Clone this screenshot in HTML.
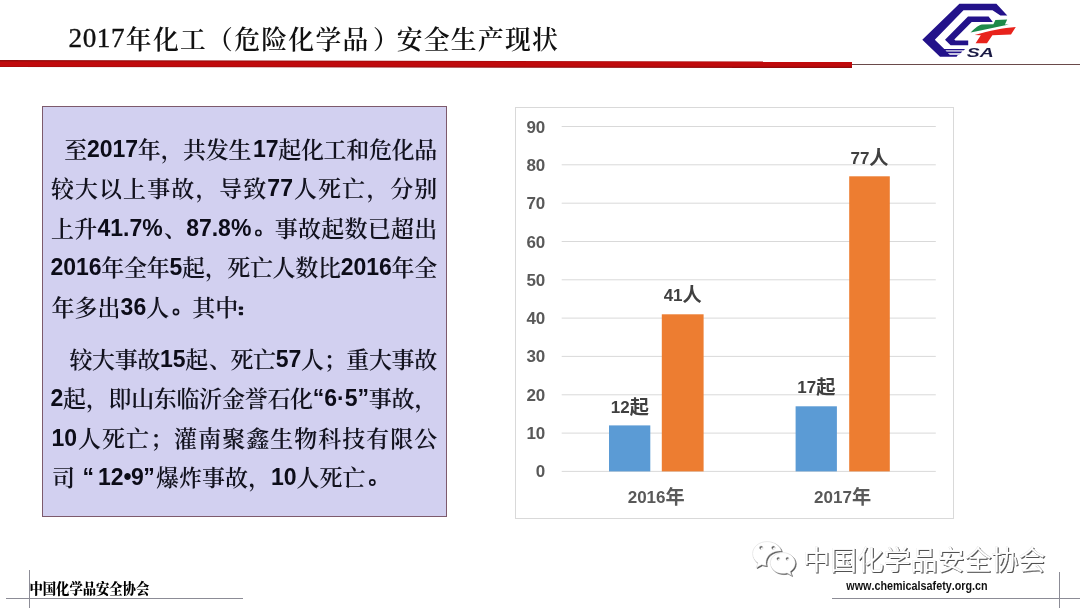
<!DOCTYPE html>
<html lang="zh"><head><meta charset="utf-8"><title>2017年化工（危险化学品）安全生产现状</title>
<style>
html,body{margin:0;padding:0;background:#fff;}
body{width:1080px;height:608px;overflow:hidden;position:relative;font-family:"Liberation Sans",sans-serif;}
#slide{position:absolute;left:0;top:0;width:1080px;height:608px;background:#fff;overflow:hidden;}
.abs{position:absolute;}
svg{position:absolute;left:0;top:0;overflow:visible;will-change:transform;}
svg text{font-family:"Liberation Sans",sans-serif;font-kerning:none;}
.n{font-weight:bold;font-size:23px;fill:#0c0c18;}
.c{font-weight:bold;font-size:17px;fill:#595959;}
.d{fill:#404040;}
.td{font-family:"Liberation Serif",serif;font-size:27.2px;fill:#111;stroke:#111;stroke-width:0.35px;letter-spacing:0.5px;}
.z{font-family:"Liberation Serif","Noto Serif CJK SC",serif;font-size:23px;font-weight:600;fill:#12121e;}
.tz{font-family:"Liberation Serif","Noto Serif CJK SC",serif;font-size:25.8px;font-weight:600;fill:#111;}
.cz{font-family:"Liberation Sans","Noto Sans CJK SC",sans-serif;font-size:19.2px;font-weight:bold;}
.fz{font-family:"Liberation Serif","Noto Serif CJK SC",serif;font-size:14.5px;font-weight:900;fill:#000;}
.wz{font-family:"Liberation Sans","Noto Sans CJK SC",sans-serif;font-size:27px;font-weight:normal;fill:#fff;stroke:#d8d8d8;stroke-width:0.22px;}
.sr{position:absolute;color:transparent;font-size:10px;line-height:12px;margin:0;overflow:hidden;white-space:nowrap;user-select:none;}
#redthin{left:852px;top:63.6px;width:228px;height:1px;background:#6a4a4a;}
#box{left:42px;top:106px;width:402.5px;height:408.7px;background:#d2d0f0;border:1px solid #7d5a6c;}
#chartbox{left:515px;top:106.5px;width:437px;height:410.5px;border:1px solid #d9d9d9;background:#fff;}
.gl{background:#8c8c96;}
</style></head>
<body><div id="slide">
<div id="redthin" class="abs"></div>
<div id="box" class="abs"></div>
<div id="chartbox" class="abs"></div>
<div class="abs gl" style="left:29px;top:570px;width:1px;height:38px"></div>
<div class="abs gl" style="left:6px;top:598px;width:237px;height:1px"></div>
<div class="abs gl" style="left:1059px;top:572px;width:1px;height:36px"></div>
<div class="abs gl" style="left:832px;top:598px;width:248px;height:1px"></div>

<h1 class="sr" style="left:69px;top:30px;width:480px">2017年化工（危险化学品）安全生产现状</h1>
<p class="sr" style="left:52px;top:140px;width:380px">至2017年，共发生17起化工和危化品较大以上事故，导致77人死亡，分别上升41.7%、87.8%。事故起数已超出2016年全年5起，死亡人数比2016年全年多出36人。其中：</p>
<p class="sr" style="left:52px;top:350px;width:380px">较大事故15起、死亡57人；重大事故2起，即山东临沂金誉石化“6·5”事故，10人死亡；灌南聚鑫生物科技有限公司 “12•9”爆炸事故，10人死亡。</p>
<p class="sr" style="left:30px;top:582px;width:120px">中国化学品安全协会</p>
<p class="sr" style="left:803px;top:548px;width:240px">中国化学品安全协会</p>

<svg width="1080" height="608" viewBox="0 0 1080 608">
<defs><linearGradient id="rg" x1="0" y1="0" x2="0" y2="1"><stop offset="0" stop-color="#8c0c0c"/><stop offset="0.3" stop-color="#c00a0c"/><stop offset="0.7" stop-color="#c00a0c"/><stop offset="1" stop-color="#8c0c0c"/></linearGradient></defs>
<polygon points="0,60 852,61.6 852,68 0,67.1" fill="url(#rg)"/>
<!-- title -->
<g fill="#111"><text class="td" x="68.6" y="47.4">2017</text><text class="tz" y="48.6" x="125.84 152.92 180 207.08 234.16 261.24 288.32 315.4 342.48 373.06 396.64 423.72 450.8 477.88 504.96 532.04">年化工（危险化学品）安全生产现状</text></g>
<!-- logo -->
<g id="logo">
<path fill="#23128a" d="M959.4 3.7H996.4L1007.3 15.5H1000.4L992.5 10.3H963.5L934.8 39.8L944.3 49H965L964 50.3H945.5L946.7 51.6H962.2L961 52.9H948L950 54.9H957.8L956.6 56.7H940L922.3 39.8Z"/>
<path fill="#23128a" d="M968 16.4H988.6L992.8 22H971.7L954.3 39.6L955.4 40.6H968.2V45.2H950.6L945 39.8Z"/>
<path fill="#9a98c8" d="M945.5 50.3H964L962.2 51.6H946.7ZM948 52.9H961L959 54.9H950Z" opacity="0.55"/>
<path fill="#1e8a4a" d="M970.6 32.6C975.5 27.8 979 25 982 24.6L993.4 24.2L995.4 19.9L1007.2 19.6L1004.9 24.4L1008.8 24.6C996 27 984 30 970.6 32.6Z"/>
<path fill="#e8231c" d="M974.6 35C990 30.6 1003 28 1015.8 27L1011 34.6L992.4 35.2L987 43.2H975.6L980.8 35.3Z"/>
<text x="966.8" y="56.6" style="font-family:'Liberation Sans',sans-serif;font-weight:bold;font-style:italic;font-size:12.8px;fill:#1a1a44" textLength="27" lengthAdjust="spacingAndGlyphs">SA</text>
</g>

<!-- body text -->
<g fill="#12121e"><g><text class="z" y="157.7" x="64.3 137.77 160.8 183.08 205.73 228.39 278.28 300.93 323.59 346.24 368.89 391.55 414.2">至年，共发生起化工和危化品</text><text class="n" x="86.95" y="156.70">2017</text><text class="n" x="253.04" y="156.70">17</text></g>
<g><text class="z" y="197.25" x="51 75.04 99.08 123.12 147.16 171.21 195.6 219.29 243.33 293.99 318.04 342.08 366.46 390.16 414.2">较大以上事故，导致人死亡，分别</text><text class="n" x="267.37" y="196.25">77</text></g>
<g><text class="z" y="236.8" x="51 74.23 164 274.82 298.05 321.28 344.51 367.74 390.97 414.2">上升、事故起数已超出</text><text class="n" x="97.46" y="235.80">41.7%</text><text class="n" x="186.14" y="235.80">87.8%</text><circle cx="258.38" cy="232.90" r="2.6" fill="none" stroke="#12121e" stroke-width="1.6"/></g>
<g><text class="n" x="50.50" y="275.35">2016</text><text class="z" y="276.35" x="101.35 124.03 146.72 181.88 204.9 227.25 249.93 272.61 295.3 317.98 391.52 414.2">年全年起，死亡人数比年全</text><text class="n" x="169.40" y="275.35">5</text><text class="n" x="340.67" y="275.35">2016</text></g>
<g><text class="z" y="315.9" x="51.6 74.6 97.6 146.18 192.18 215.18">年多出人其中</text><text class="n" x="120.60" y="314.90">36</text><circle cx="175.98" cy="312.00" r="2.6" fill="none" stroke="#12121e" stroke-width="1.6"/><rect x="238.78" y="306.60" width="4.3" height="3.1" rx="1"/><rect x="238.78" y="312.10" width="4.3" height="3.1" rx="1"/></g>
<g><text class="z" y="367.8" x="69.4 92.04 114.68 137.33 185.19 208.9 230.48 253.12 300.99 323.8 346.27 368.92 391.56 414.2">较大事故起、死亡人；重大事故</text><text class="n" x="159.97" y="366.80">15</text><text class="n" x="275.76" y="366.80">57</text></g>
<g><text class="n" x="50.50" y="406.33">2</text><text class="z" y="407.33" x="63 86.06 108.42 131.14 153.85 176.56 199.27 221.98 244.69 267.4 290.11 368.78 391.49 414.54">起，即山东临沂金誉石化事故，</text><text class="n" x="312.82" y="406.33">“6·5”</text></g>
<g><text class="n" x="51.50" y="445.86">10</text><text class="z" y="446.86" x="78.09 102.1 126.11 150.3 174.12 198.13 222.14 246.15 270.15 294.16 318.17 342.18 366.18 390.19 414.2">人死亡；灌南聚鑫生物科技有限公</text></g>
<g><text class="z" y="486.39" x="52 155.93 178.93 201.93 224.93 248.27 296.51 319.51 342.51">司爆炸事故，人死亡</text><text class="n" x="75.00" y="485.39"> </text><text class="n" x="82.50" y="485.39">“</text><text class="n" x="98.00" y="485.39">12•</text><text class="n" x="130.94" y="485.39">9</text><text class="n" x="143.23" y="485.39">”</text><text class="n" x="270.93" y="485.39">10</text><circle cx="372.31" cy="482.49" r="2.6" fill="none" stroke="#12121e" stroke-width="1.6"/></g></g>
<!-- chart -->
<g stroke="#d9d9d9" stroke-width="1"><line x1="561.7" x2="935.8" y1="471.4" y2="471.4"/><line x1="561.7" x2="935.8" y1="433.1" y2="433.1"/><line x1="561.7" x2="935.8" y1="394.8" y2="394.8"/><line x1="561.7" x2="935.8" y1="356.4" y2="356.4"/><line x1="561.7" x2="935.8" y1="318.1" y2="318.1"/><line x1="561.7" x2="935.8" y1="279.8" y2="279.8"/><line x1="561.7" x2="935.8" y1="241.5" y2="241.5"/><line x1="561.7" x2="935.8" y1="203.2" y2="203.2"/><line x1="561.7" x2="935.8" y1="164.8" y2="164.8"/><line x1="561.7" x2="935.8" y1="126.5" y2="126.5"/></g>
<rect x="609.0" y="425.4" width="41.3" height="46.0" fill="#5b9bd5"/><rect x="661.8" y="314.3" width="41.8" height="157.1" fill="#ed7d31"/><rect x="795.6" y="406.3" width="41.3" height="65.1" fill="#5b9bd5"/><rect x="849.2" y="176.3" width="40.6" height="295.1" fill="#ed7d31"/>
<text class="c" x="545.3" y="477.4" text-anchor="end">0</text><text class="c" x="545.3" y="439.1" text-anchor="end">10</text><text class="c" x="545.3" y="400.8" text-anchor="end">20</text><text class="c" x="545.3" y="362.4" text-anchor="end">30</text><text class="c" x="545.3" y="324.1" text-anchor="end">40</text><text class="c" x="545.3" y="285.8" text-anchor="end">50</text><text class="c" x="545.3" y="247.5" text-anchor="end">60</text><text class="c" x="545.3" y="209.2" text-anchor="end">70</text><text class="c" x="545.3" y="170.8" text-anchor="end">80</text><text class="c" x="545.3" y="132.5" text-anchor="end">90</text>
<g fill="#595959"><g fill="#404040"><text class="c d" x="610.85" y="412.80">12</text><text class="cz" fill="#404040" x="629.75" y="413.5">起</text><text class="c d" x="663.65" y="301.40">41</text><text class="cz" fill="#404040" x="682.55" y="302.1">人</text><text class="c d" x="797.35" y="393.20">17</text><text class="cz" fill="#404040" x="816.25" y="393.9">起</text><text class="c d" x="850.45" y="163.80">77</text><text class="cz" fill="#404040" x="869.35" y="164.5">人</text></g><text class="c" x="627.69" y="503.10">2016</text><text class="cz" fill="#595959" x="665.51" y="503.8">年</text><text class="c" x="814.09" y="503.10">2017</text><text class="cz" fill="#595959" x="851.91" y="503.8">年</text></g>
<!-- footer -->
<g fill="#000"><text class="fz" transform="translate(29.5 594.3) scale(0.924 1)" y="0" x="0 14.39 28.79 43.18 57.58 71.97 86.36 100.76 115.15">中国化学品安全协会</text></g>
<text transform="translate(846.3 589.8) scale(0.793 1)" style="font-weight:bold;font-size:13.6px;fill:#111">www.chemicalsafety.org.cn</text>
<!-- watermark -->
<g fill="#fff" style="filter:drop-shadow(1.1px 1.1px 0.45px rgba(50,50,50,0.85))"><g><text class="wz" y="570" x="803 829.9 856.8 883.7 910.6 937.5 964.4 991.3 1018.2">中国化学品安全协会</text></g> <g id="wechat" stroke="#d4d4d4" stroke-width="0.5">
<path d="M767 541.6c-8 0-14.4 5.4-14.4 12.1c0 3.8 2 7.1 5.300 9.400l-1.7 4.600l5.400-2.900c1.500 0.500 3.100 0.800 4.800 0.900c-0.300-1-0.400-2-0.400-3c0-6.600 6.200-11.600 13.600-11.600c0.600 0 1.200 0 1.800 0.100c-1.300-5.500-7.200-9.600-14.400-9.600zM761.200 546c1 0 1.800 0.800 1.800 1.800s-0.800 1.800-1.800 1.800s-1.800-0.800-1.800-1.800s0.800-1.800 1.800-1.800zM773.400 546c1 0 1.800 0.800 1.800 1.800s-0.800 1.800-1.800 1.800s-1.800-0.800-1.800-1.800s0.800-1.800 1.800-1.800z" fill-rule="evenodd"/>
<path d="M782.800 552.600c-6.900 0-12.500 4.700-12.500 10.500s5.600 10.500 12.500 10.500c1.500 0 2.900-0.200 4.200-0.600l4.600 2.600l-1.400-4c3.100-1.900 5.100-5 5.100-8.500c0-5.800-5.600-10.500-12.500-10.500zM778.300 557.200c0.850 0 1.550 0.700 1.550 1.550s-0.700 1.550-1.550 1.550s-1.550-0.700-1.550-1.550s0.700-1.550 1.550-1.550zM787.400 557.200c0.850 0 1.550 0.700 1.550 1.550s-0.700 1.550-1.550 1.550s-1.550-0.700-1.550-1.550s0.700-1.550 1.550-1.550z" fill-rule="evenodd"/>
</g>
</g>
</svg>
</div></body></html>
